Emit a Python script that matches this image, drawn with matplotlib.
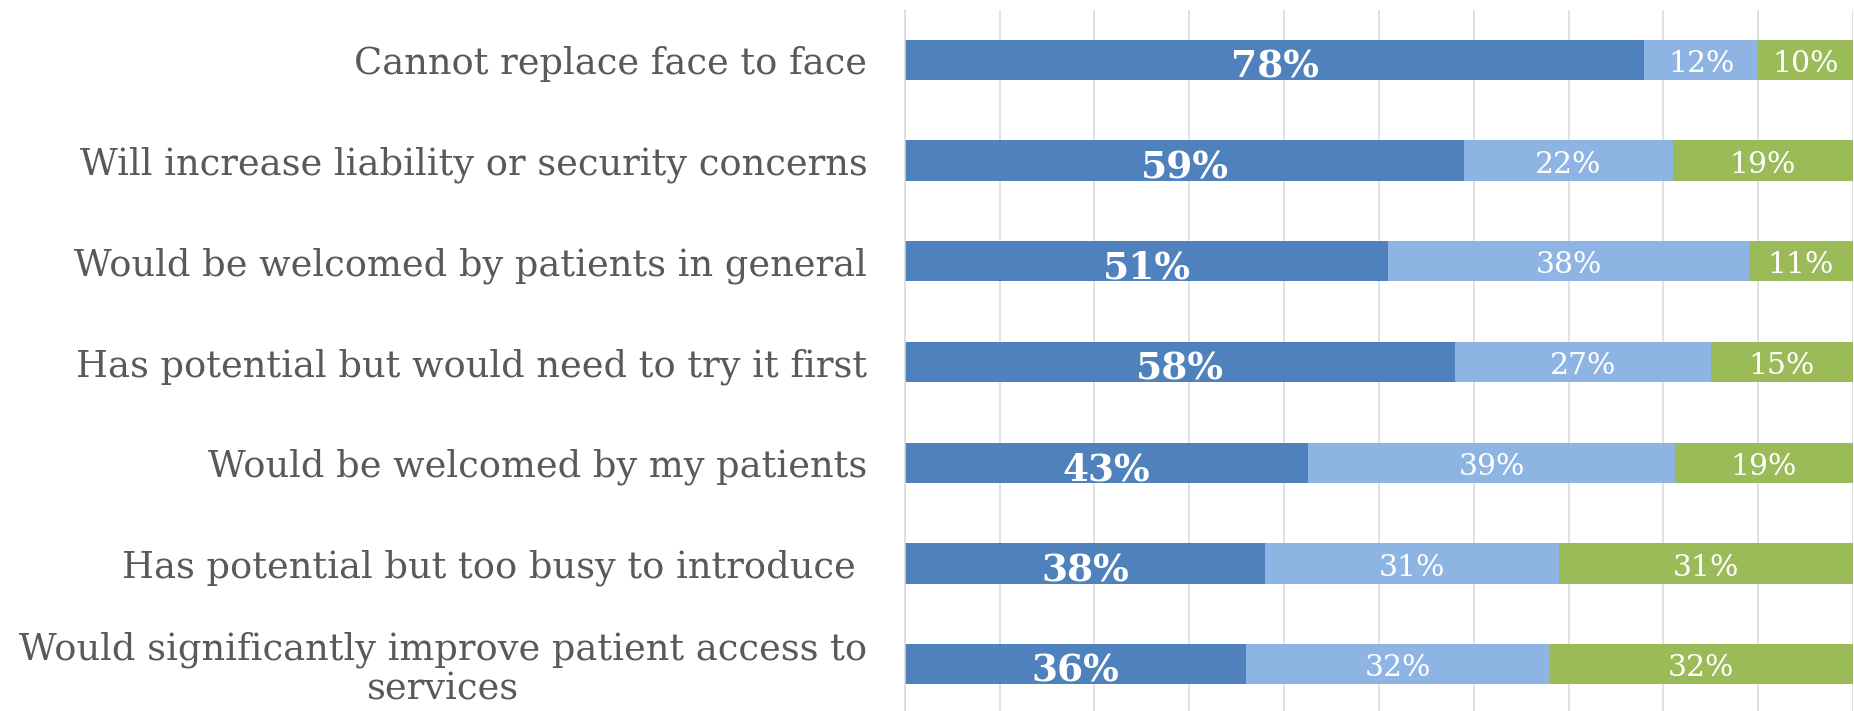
import numpy as np
import matplotlib
matplotlib.use("Agg")
import matplotlib.pyplot as plt

# Survey responses, top row first
categories = [
    "Cannot replace face to face",
    "Will increase liability or security concerns",
    "Would be welcomed by patients in general",
    "Has potential but would need to try it first",
    "Would be welcomed by my patients",
    "Has potential but too busy to introduce ",
    "Would significantly improve patient access to\nservices",
]
agree = [78, 59, 51, 58, 43, 38, 36]
neutral = [12, 22, 38, 27, 39, 31, 32]
disagree = [10, 19, 11, 15, 19, 31, 32]

DARK_BLUE = "#4F81BD"
LIGHT_BLUE = "#8EB4E3"
GREEN = "#9BBB59"
GRID = "#D9D9D9"
TEXT = "#595959"

plt.rcParams["font.family"] = ["DejaVu Serif"]

fig = plt.figure(figsize=(18.54, 7.11), dpi=100)
ax = fig.add_axes([0.488, -0.005, 0.5115, 0.9916])

# 100% stacked: normalise each row by its total
vals = np.array([agree, neutral, disagree], dtype=float)
shares = vals / vals.sum(axis=0)
y = np.arange(len(categories))

left = np.zeros(len(categories))
for row, raw, color, bold in zip(shares, vals, [DARK_BLUE, LIGHT_BLUE, GREEN],
                                 [True, False, False]):
    ax.barh(y, row, left=left, height=0.4, color=color, zorder=2)
    for i, (w, v) in enumerate(zip(row, raw)):
        ax.text(left[i] + w / 2, y[i] + (0.07 if bold else 0.04), f"{v:.0f}%",
                ha="center", va="center", color="white",
                fontsize=27 if bold else 21.5,
                fontweight="bold" if bold else "normal", zorder=3)
    left += row

ax.set_xlim(0, 1)
ax.set_ylim(len(categories) - 0.5, -0.5)
ax.set_xticks(np.arange(0, 1.01, 0.1))
ax.xaxis.grid(True, color=GRID, linewidth=1.1, zorder=0)
ax.set_axisbelow(True)
ax.tick_params(axis="x", length=0, labelbottom=False)
ax.tick_params(axis="y", length=0, pad=27, labelsize=26.5, labelcolor=TEXT)
ax.set_yticks(y)
ax.set_yticklabels(categories, multialignment="center", linespacing=1.1)
for side in ["top", "right", "bottom"]:
    ax.spines[side].set_visible(False)
ax.spines["left"].set_color(GRID)
ax.spines["left"].set_linewidth(1.1)

fig.savefig("out.png", dpi=100, facecolor="white")
